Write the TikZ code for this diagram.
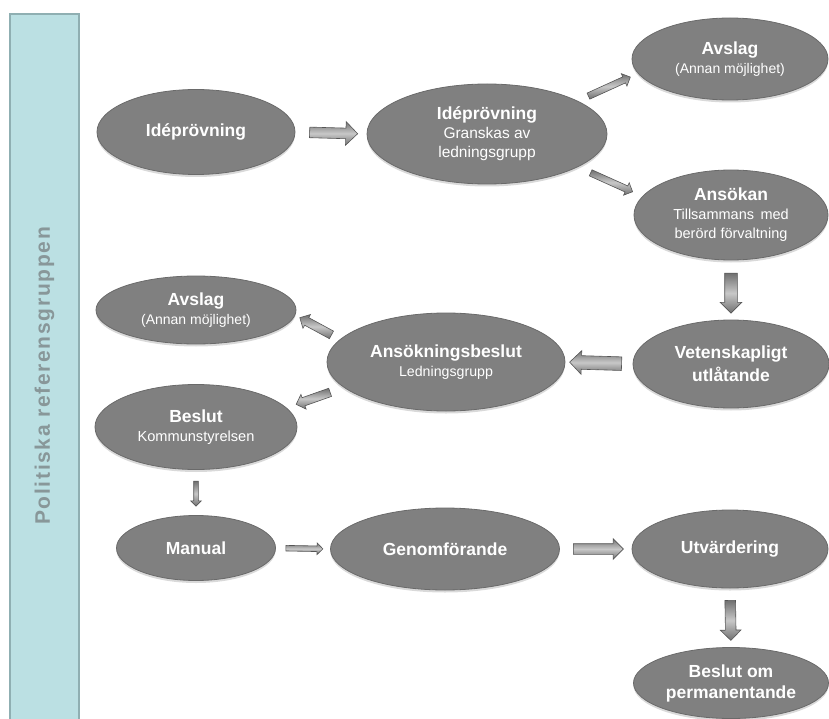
\documentclass[tikz,border=0pt]{standalone}
\usepackage{fontspec}
\setmainfont{Liberation Sans}
\usepackage{tikz}
\usetikzlibrary{shapes.geometric,shapes.arrows,shadows}
\definecolor{ovalgray}{HTML}{808080}
\definecolor{ovalrim}{HTML}{6A6A6A}
\definecolor{arrdark}{HTML}{707070}
\definecolor{arrlight}{HTML}{C8C8C8}
\definecolor{arredge}{HTML}{555555}
\definecolor{barfill}{HTML}{BBE0E3}
\definecolor{baredge}{HTML}{8FAFB2}
\definecolor{bartext}{HTML}{889799}
\newcommand{\ovtitle}[1]{{\bfseries\fontsize{17.5}{19}\selectfont #1}}

\begin{document}
\begin{tikzpicture}[x=1pt,y=-1pt
	,oval/.style={ellipse, fill=ovalgray, draw=ovalrim, line width=0.8pt
		,text=white, align=center, inner sep=0pt
		,font=\fontsize{#1}{19}\selectfont
		,drop shadow={shadow xshift=0pt, shadow yshift=-2.5pt, opacity=0.3}}
	,oval/.default=14
	,blk/.style n args={3}{single arrow, sloped, allow upside down
		,minimum height=#1, inner xsep=0pt, inner ysep={#2*0.5}
		,single arrow head extend={(#3-#2)*0.5}, minimum width=#3
		,draw=arredge, line width=0.6pt
		,top color=arrdark, bottom color=arrdark, middle color=arrlight}
	]
  \tikzstyle{sidebar}=[draw=baredge, fill=barfill, line width=1.5pt
	,text=bartext
	,font=\bfseries\fontsize{21}{24}\selectfont\addfontfeatures{LetterSpace=8}]

  \useasboundingbox (0,0) rectangle (829,719);

  % side bar
  \node[sidebar, rotate=90, minimum width=724, minimum height=69]
    (refgrp) at (44.5,376) {Politiska referensgruppen};

  % top part
  \node[oval, minimum width=198, minimum height=85] (ide1) at (196,132)
    {\ovtitle{Idéprövning}};
  \node[oval=15.5, minimum width=240, minimum height=100] (ide2) at (487,134)
    {\ovtitle{Idéprövning}\\ Granskas av\\ ledningsgrupp};
  \node[oval=14, minimum width=196, minimum height=82] (avslagA) at (730,59)
    {\ovtitle{Avslag}\\ (Annan möjlighet)};
  \node[oval=14.5, minimum width=194, minimum height=90] (ansokan) at (731,215)
    {\ovtitle{Ansökan}\\ Tillsammans\, med\\ berörd förvaltning};
  % middle part
  \node[oval, minimum width=196, minimum height=88] (vetensk) at (731,364)
    {\ovtitle{Vetenskapligt}\\[4pt] \ovtitle{utlåtande}};
  \node[oval=14.2, minimum width=238, minimum height=98] (ansbeslut) at (446,362)
    {\ovtitle{Ansökningsbeslut}\\ Ledningsgrupp};
  \node[oval=14, minimum width=200, minimum height=68] (avslagB) at (196,310)
    {\ovtitle{Avslag}\\ (Annan möjlighet)};
  \node[oval=14.6, minimum width=202, minimum height=85] (beslut) at (196,427)
    {\ovtitle{Beslut}\\ Kommunstyrelsen};
  % bottom part
  \node[oval, minimum width=159, minimum height=65] (manual) at (196,548)
    {\ovtitle{Manual}};
  \node[oval, minimum width=229, minimum height=82] (genomf) at (445,549)
    {\ovtitle{Genomförande}};
  \node[oval, minimum width=196, minimum height=78] (utvard) at (730,549)
    {\ovtitle{Utvärdering}};
  \node[oval, minimum width=195, minimum height=71] (permanent) at (731,683)
    {\ovtitle{Beslut om}\\[2pt] \ovtitle{permanentande}};

  % block arrows, in reading order
  \path (ide1.east)      -- node[blk={48}{10}{23}] {} (ide2.west);
  \path (ide2.20)        -- node[blk={46}{6}{13}]  {} (avslagA.189);
  \path (ide2.-20)       -- node[blk={46}{6}{13}]  {} (ansokan.168);
  \path (ansokan.south)  -- node[blk={40}{12}{21}] {} (vetensk.north);
  \path (vetensk.west)   -- node[blk={52}{13}{23}] {} (ansbeslut.east);
  \path (ansbeslut.168)  -- node[blk={36}{8}{15}]  {} (avslagB.-3);
  \path (ansbeslut.194)  -- node[blk={36}{8}{15}]  {} (beslut.12);
  \path (beslut.south)   -- node[blk={25}{4}{10}]  {} (manual.north);
  \path (manual.east)    -- node[blk={37}{5}{11}]  {} (genomf.west);
  \path (genomf.east)    -- node[blk={50}{10}{20}] {} (utvard.west);
  \path (utvard.south)   -- node[blk={40}{10}{20}] {} (permanent.north);

\end{tikzpicture}
\end{document}
